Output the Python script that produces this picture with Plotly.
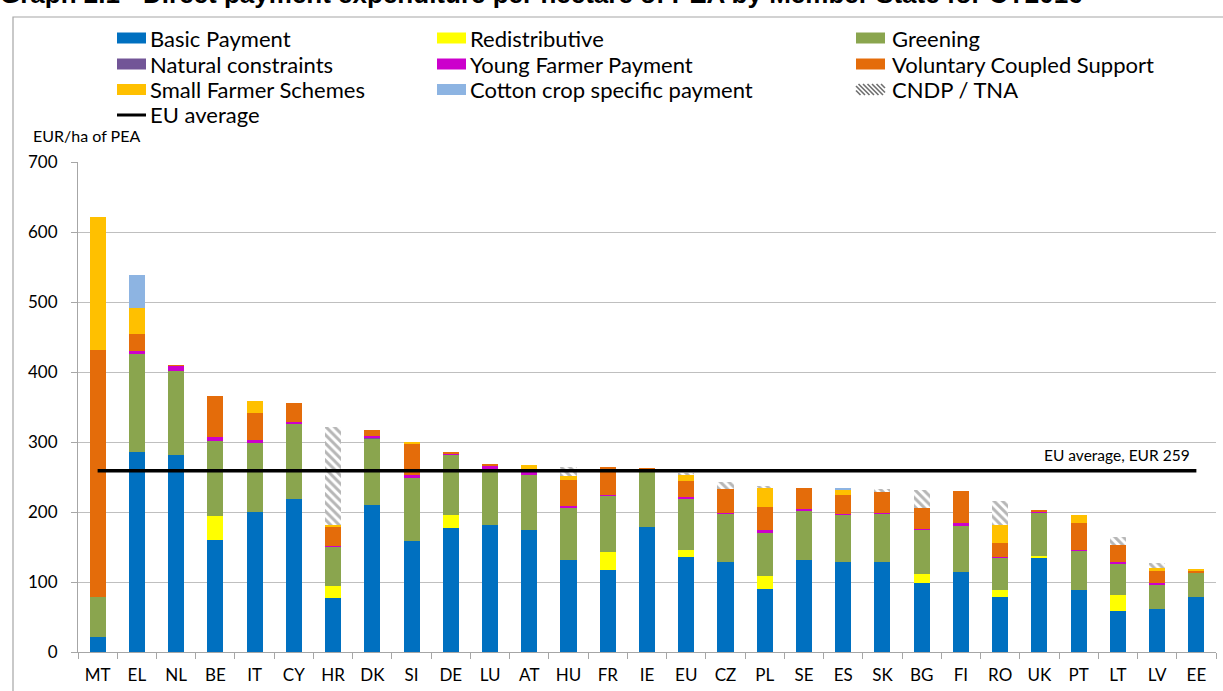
import plotly.graph_objects as go

countries = ["MT", "EL", "NL", "BE", "IT", "CY", "HR", "DK", "SI", "DE", "LU", "AT", "HU", "FR",
             "IE", "EU", "CZ", "PL", "SE", "ES", "SK", "BG", "FI", "RO", "UK", "PT", "LT", "LV", "EE"]

basic_payment = [21, 286, 282, 160, 200, 219, 77, 210, 158, 177, 182, 175, 131, 117, 179, 136, 128, 90,
                 131, 128, 129, 98, 114, 79, 135, 89, 58, 61, 78]
redistributive = [0, 0, 0, 34, 0, 0, 18, 0, 0, 19, 0, 0, 0, 26, 0, 10, 0, 19, 0, 0, 0, 14, 0, 9, 2, 0, 24, 0, 0]
greening = [58, 140, 120, 108, 99, 107, 55, 95, 90, 85, 80, 78, 76, 80, 80, 73, 70, 61, 70, 68, 69, 63, 66,
            47, 62, 56, 45, 35, 35]
natural_constraints = [0, 0, 0, 0, 0, 0, 0, 2, 0, 0, 0, 0, 0, 0, 0, 0, 0, 0, 0, 0, 0, 0, 0, 0, 0, 0, 0, 0, 0]
young_farmer = [0, 4, 7, 5, 4, 2, 2, 1, 5, 3, 5, 4, 2, 2, 2, 2, 1, 4, 3, 1, 1, 1, 5, 1, 2, 1, 2, 2, 0]
coupled_support = [352, 25, 1, 59, 38, 28, 27, 9, 45, 1, 1, 0, 37, 39, 2, 24, 34, 33, 30, 27, 29, 30, 45, 20,
                   1, 38, 24, 18, 4]
small_farmer = [191, 37, 0, 0, 17, 0, 3, 0, 1, 0, 0, 10, 5, 0, 0, 8, 0, 28, 0, 7, 0, 0, 0, 26, 0, 12, 0, 4, 2]
cotton = [0, 46, 0, 0, 0, 0, 0, 0, 0, 0, 0, 0, 0, 0, 0, 1, 0, 0, 0, 4, 0, 0, 0, 0, 0, 0, 0, 0, 0]
cndp_tna = [0, 0, 0, 0, 0, 0, 139, 0, 0, 0, 0, 0, 14, 0, 0, 2, 10, 2, 0, 0, 5, 25, 0, 34, 0, 0, 12, 7, 0]
eu_average = 259

y_ticks = [0, 100, 200, 300, 400, 500, 600, 700]

FONT = "Lato"
W, H = 1223, 691
ML, MR, MT_, MB = 78, 7, 162, 39
PW, PH = W - ML - MR, H - MT_ - MB


def px(x):
    return (x - ML) / PW


def py(y):
    return (H - MB - y) / PH


HATCH = "#6E6E6E"

series = [
    ("Basic Payment", basic_payment, "#0070C0"),
    ("Redistributive", redistributive, "#FFFF00"),
    ("Greening", greening, "#8AA54E"),
    ("Natural constraints", natural_constraints, "#725597"),
    ("Young Farmer Payment", young_farmer, "#CC00CC"),
    ("Voluntary Coupled Support", coupled_support, "#E46C0A"),
    ("Small Farmer Schemes", small_farmer, "#FFC000"),
    ("Cotton crop specific payment", cotton, "#8DB4E2"),
]

fig = go.Figure()
for name, vals, color in series:
    fig.add_trace(go.Bar(x=countries, y=vals, name=name, marker_color=color,
                         marker_line_width=0, showlegend=False))

fig.add_trace(go.Bar(x=countries, y=cndp_tna, name="CNDP / TNA", showlegend=False,
                     marker=dict(color="white", line_width=0,
                                 pattern=dict(shape="\\", fgcolor=HATCH, bgcolor="white",
                                              size=6, solidity=0.5))))

fig.add_trace(go.Scatter(x=countries, y=[eu_average] * len(countries), mode="lines",
                         name="EU average", line=dict(color="black", width=3.5), showlegend=False))

# ---- custom legend (3 columns) ----
colors = {name: color for name, _, color in series}
legend_layout = [
    # (label, kind, column text x, swatch x0, row centre y)
    ("Basic Payment", "rect", 149, 117, 38),
    ("Natural constraints", "rect", 149, 117, 64),
    ("Small Farmer Schemes", "rect", 149, 117, 89.5),
    ("EU average", "line", 149, 117, 115),
    ("Redistributive", "rect", 469, 437, 38),
    ("Young Farmer Payment", "rect", 469, 437, 64),
    ("Cotton crop specific payment", "rect", 469, 437, 89.5),
    ("Greening", "rect", 891, 856, 38),
    ("Voluntary Coupled Support", "rect", 891, 856, 64),
    ("CNDP / TNA", "hatch", 891, 856, 89.5),
]
SW_W, SW_H = 29, 11
for label, kind, tx, sx, cy in legend_layout:
    if kind == "rect":
        fig.add_shape(type="rect", xref="paper", yref="paper",
                      x0=px(sx), x1=px(sx + SW_W), y0=py(cy + SW_H / 2), y1=py(cy - SW_H / 2),
                      fillcolor=colors[label], line_width=0)
    elif kind == "line":
        fig.add_shape(type="line", xref="paper", yref="paper",
                      x0=px(sx), x1=px(sx + SW_W), y0=py(cy), y1=py(cy),
                      line=dict(color="black", width=3))
    else:
        top, bot = cy - SW_H / 2, cy + SW_H / 2
        start = sx - SW_H
        while start < sx + SW_W:
            xa, ya = start, top
            xb, yb = start + SW_H, bot
            if xa < sx:
                ya += sx - xa
                xa = sx
            if xb > sx + SW_W:
                yb -= xb - (sx + SW_W)
                xb = sx + SW_W
            if xb > xa:
                fig.add_shape(type="line", xref="paper", yref="paper",
                              x0=px(xa), x1=px(xb), y0=py(ya), y1=py(yb),
                              line=dict(color=HATCH, width=1.6))
            start += 4.5
    fig.add_annotation(x=px(tx), y=py(cy), xref="paper", yref="paper", text=label,
                       showarrow=False, xanchor="left", yanchor="middle", borderpad=0,
                       font=dict(family=FONT, size=22, color="black"))

fig.add_annotation(x=countries[-1], y=eu_average, xref="x", yref="y", text="EU average, EUR 259",
                   showarrow=False, xanchor="right", yanchor="bottom", xshift=-4, yshift=5,
                   font=dict(family=FONT, size=15.5, color="black"))

fig.add_annotation(x=px(32), y=py(135), xref="paper", yref="paper", text="EUR/ha of PEA",
                   showarrow=False, xanchor="left", yanchor="middle", borderpad=0,
                   font=dict(family=FONT, size=16, color="black"))

fig.add_annotation(x=px(-2), y=py(-6), xref="paper", yref="paper",
                   text="<b>Graph 2.1 - Direct payment expenditure per hectare of PEA by Member State for CY2016</b>",
                   showarrow=False, xanchor="left", yanchor="middle",
                   font=dict(family="Liberation Sans", size=26, color="black"))

fig.add_shape(type="rect", xref="paper", yref="paper", x0=px(13), x1=px(1240), y0=py(710), y1=py(17),
              line=dict(color="#A6A6A6", width=1.2), fillcolor="rgba(0,0,0,0)", layer="below")

fig.update_layout(
    width=W, height=H,
    margin=dict(l=ML, r=MR, t=MT_, b=MB),
    paper_bgcolor="white", plot_bgcolor="white",
    barmode="stack", bargap=0.59,
    showlegend=False,
    font=dict(family=FONT, size=17, color="black"),
    xaxis=dict(tickson="boundaries", ticks="outside", ticklen=6, tickcolor="#A6A6A6",
               showline=True, linecolor="#A6A6A6", linewidth=1.2, showgrid=False,
               ticklabelstandoff=7,
               tickfont=dict(family=FONT, size=17, color="black")),
    yaxis=dict(range=[0, 700], tickvals=y_ticks, ticks="outside", ticklen=6, tickcolor="#A6A6A6",
               showline=True, linecolor="#A6A6A6", linewidth=1.2, showgrid=True,
               gridcolor="#BFBFBF", gridwidth=1.2, zeroline=False, ticklabelstandoff=10,
               tickfont=dict(family=FONT, size=17, color="black")),
)

fig.write_html("out.html", config={"displayModeBar": False},
               post_script="document.body.style.margin='0px';document.body.style.overflow='hidden';")
